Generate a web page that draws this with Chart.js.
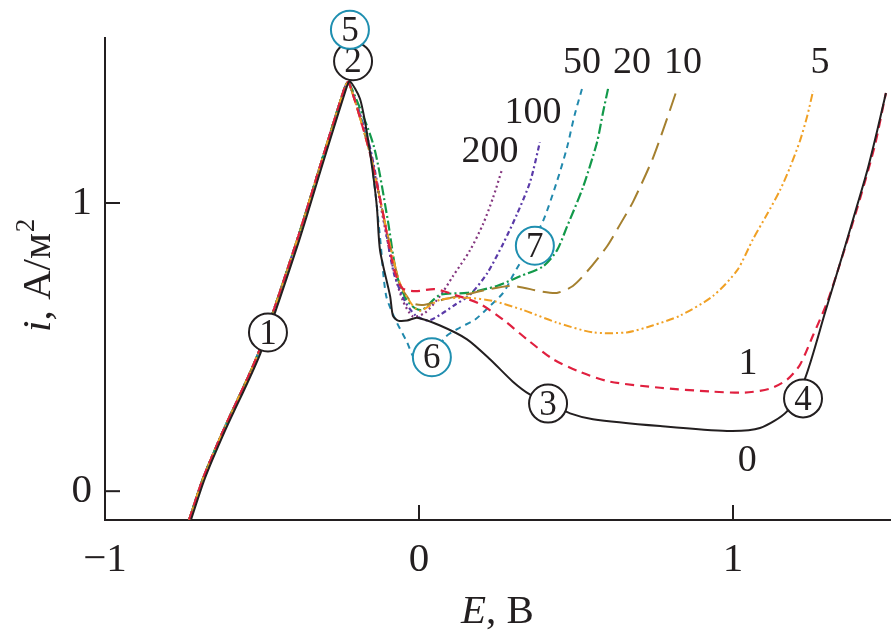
<!DOCTYPE html>
<html lang="ru">
<head>
<meta charset="UTF-8">
<title>i–E</title>
<script src="https://cdn.jsdelivr.net/npm/chart.js@4.4.0/dist/chart.umd.min.js"></script>
<style>
  html, body { margin: 0; padding: 0; background: #fff; }
</style>
</head>
<body>
<canvas id="chart" width="892" height="636"></canvas>
<script>
// axis ticks
const xTicks = [-1, 0, 1];
const yTicks = [0, 1];

// shared anodic rise (all coloured curves lie on it)
const riseBranch = [[-0.732, -0.099], [-0.688, 0.044], [-0.624, 0.209], [-0.513, 0.476], [-0.392, 0.859], [-0.312, 1.139], [-0.235, 1.406], [-0.224, 1.420]];

// curve 0 (black, solid)
const curve0 = [[-0.726, -0.099], [-0.682, 0.044], [-0.618, 0.209], [-0.506, 0.476], [-0.385, 0.859], [-0.306, 1.139], [-0.229, 1.406], [-0.220, 1.423],
  [-0.188, 1.362], [-0.166, 1.245], [-0.146, 1.098], [-0.134, 0.985], [-0.124, 0.835], [-0.092, 0.677], [-0.083, 0.609],
  [-0.067, 0.592], [-0.038, 0.592], [-0.006, 0.602],
  [0.067, 0.575], [0.153, 0.527], [0.226, 0.458], [0.299, 0.380], [0.354, 0.335], [0.417, 0.304], [0.481, 0.270],
  [0.554, 0.250], [0.768, 0.226], [0.981, 0.209], [1.086, 0.219], [1.172, 0.277], [1.229, 0.390], [1.293, 0.619],
  [1.350, 0.824], [1.395, 0.990], [1.427, 1.110], [1.459, 1.250], [1.487, 1.382]];

// curve 1
const curve1 = [[-0.158, 1.180], [-0.114, 0.961], [-0.080, 0.773], [-0.054, 0.705], [-0.013, 0.694], [0.051, 0.701],
  [0.115, 0.681], [0.194, 0.650], [0.268, 0.595], [0.344, 0.527], [0.427, 0.458], [0.513, 0.414], [0.608, 0.380],
  [0.768, 0.359], [0.927, 0.346], [1.038, 0.342], [1.118, 0.356], [1.172, 0.387], [1.213, 0.438], [1.255, 0.541],
  [1.299, 0.653], [1.341, 0.790], [1.404, 1.013], [1.452, 1.201], [1.487, 1.382]];

// curve 5
const curve5 = [[-0.155, 1.167], [-0.104, 0.910], [-0.061, 0.722], [-0.022, 0.647], [0.003, 0.626], [0.067, 0.664],
  [0.153, 0.671], [0.236, 0.660], [0.331, 0.629], [0.439, 0.585], [0.554, 0.551], [0.662, 0.551], [0.744, 0.575],
  [0.831, 0.609], [0.936, 0.677], [1.013, 0.766], [1.064, 0.875], [1.108, 0.960], [1.150, 1.045], [1.182, 1.125],
  [1.213, 1.215], [1.236, 1.300], [1.255, 1.389]];

// curve 10
const curve10 = [[-0.155, 1.167], [-0.104, 0.910], [-0.061, 0.722], [-0.022, 0.653], [0.019, 0.647], [0.083, 0.667],
  [0.146, 0.681], [0.210, 0.698], [0.299, 0.712], [0.385, 0.694], [0.439, 0.688], [0.490, 0.712], [0.535, 0.762],
  [0.599, 0.850], [0.640, 0.925], [0.682, 1.005], [0.745, 1.156], [0.790, 1.293], [0.822, 1.396]];

// curve 20
const curve20 = [[-0.145, 1.201], [-0.100, 0.944], [-0.072, 0.756], [-0.042, 0.668], [-0.013, 0.635], [0.010, 0.629],
  [0.067, 0.681], [0.153, 0.688], [0.248, 0.712], [0.322, 0.746], [0.395, 0.780], [0.439, 0.835], [0.471, 0.917],
  [0.522, 1.054], [0.567, 1.211], [0.586, 1.314], [0.602, 1.396]];

// curve 50
const curve50 = [[-0.160, 1.201], [-0.142, 1.064], [-0.124, 0.880], [-0.105, 0.680], [-0.075, 0.595], [-0.038, 0.517],
  [-0.013, 0.458], [0.029, 0.441], [0.083, 0.534], [0.131, 0.568], [0.178, 0.595], [0.226, 0.643], [0.268, 0.688],
  [0.300, 0.750], [0.344, 0.835], [0.395, 0.937], [0.439, 1.074], [0.471, 1.191], [0.495, 1.303], [0.519, 1.396]];

// curve 100
const curve100 = [[-0.158, 1.201], [-0.112, 0.944], [-0.080, 0.756], [-0.045, 0.660], [-0.013, 0.612], [0.029, 0.592],
  [0.067, 0.612], [0.115, 0.647], [0.162, 0.681], [0.217, 0.756], [0.268, 0.859], [0.312, 0.961], [0.354, 1.074],
  [0.385, 1.211]];

// curve 200
const curve200 = [[-0.160, 1.201], [-0.114, 0.944], [-0.080, 0.763], [-0.051, 0.660], [-0.019, 0.606], [0.019, 0.619],
  [0.067, 0.677], [0.108, 0.746], [0.162, 0.835], [0.204, 0.927], [0.236, 1.019], [0.264, 1.115]];

// curve labels: text, x, y
const curveLabels = [['0', 1.045, 0.106], ['1', 1.048, 0.441], ['5', 1.277, 1.485], ['10', 0.841, 1.485],
  ['20', 0.678, 1.485], ['50', 0.519, 1.485], ['100', 0.363, 1.314], ['200', 0.226, 1.177]];

// circled point numbers: text, x, y, ring colour
const pointMarks = [['1', -0.481, 0.551, 'black'], ['2', -0.210, 1.492, 'black'], ['3', 0.411, 0.304, 'black'],
  ['4', 1.223, 0.322, 'black'], ['5', -0.220, 1.601, 'teal'], ['6', 0.041, 0.465, 'teal'], ['7', 0.369, 0.852, 'teal']];

const ink = '#231f20';
const ringColors = { black: '#231f20', teal: '#1f8fb0' };
const serif = "'Times New Roman', 'Liberation Serif', Tinos, Times, serif";

function toXY(arr) { return arr.map(([x, y]) => ({ x, y })); }

const series = [
  { label: '0', pts: curve0, color: '#231f20', dash: [], width: 2 },
  { label: '1', pts: riseBranch.concat(curve1), color: '#e0203f', dash: [9, 6], width: 2.2 },
  { label: '5', pts: riseBranch.concat(curve5), color: '#f0a024', dash: [8, 3, 2, 3, 2, 3], width: 2 },
  { label: '10', pts: riseBranch.concat(curve10), color: '#a5802f', dash: [18, 8], width: 2 },
  { label: '20', pts: riseBranch.concat(curve20), color: '#12994a', dash: [10, 3, 2, 3], width: 2.2 },
  { label: '50', pts: riseBranch.concat(curve50), color: '#2189ad', dash: [6, 5], width: 2 },
  { label: '100', pts: riseBranch.concat(curve100), color: '#5a3aa8', dash: [5, 3, 2, 3], width: 2.2 },
  { label: '200', pts: riseBranch.concat(curve200), color: '#84367f', dash: [2, 3], width: 2.2 }
];

const datasets = series.map(s => ({
  label: s.label,
  data: toXY(s.pts),
  borderColor: s.color,
  backgroundColor: s.color,
  borderWidth: s.width,
  borderDash: s.dash,
  pointRadius: 0,
  tension: 0.25,
  fill: false
}));

const overlay = {
  id: 'overlay',
  afterDraw(chart) {
    const { ctx, chartArea, scales: { x, y } } = chart;
    ctx.save();
    // inward tick marks
    ctx.strokeStyle = ink;
    ctx.lineWidth = 2;
    xTicks.forEach(v => {
      if (v === x.min) return;
      const px = x.getPixelForValue(v);
      ctx.beginPath(); ctx.moveTo(px, chartArea.bottom); ctx.lineTo(px, chartArea.bottom - 15); ctx.stroke();
    });
    yTicks.forEach(v => {
      const py = y.getPixelForValue(v);
      ctx.beginPath(); ctx.moveTo(chartArea.left, py); ctx.lineTo(chartArea.left + 15, py); ctx.stroke();
    });

    // curve labels
    ctx.fillStyle = ink;
    ctx.font = `38px ${serif}`;
    ctx.textAlign = 'center';
    ctx.textBaseline = 'middle';
    curveLabels.forEach(([t, vx, vy]) => ctx.fillText(t, x.getPixelForValue(vx), y.getPixelForValue(vy)));

    // circled numbers
    pointMarks.forEach(([t, vx, vy, c]) => {
      const px = x.getPixelForValue(vx), py = y.getPixelForValue(vy);
      ctx.beginPath();
      ctx.arc(px, py, 19, 0, Math.PI * 2);
      ctx.fillStyle = '#fff';
      ctx.fill();
      ctx.strokeStyle = ringColors[c];
      ctx.lineWidth = 2;
      ctx.stroke();
      ctx.fillStyle = ink;
      ctx.font = `35px ${serif}`;
      ctx.fillText(t, px, py + 2);
    });

    // x title: E, В
    ctx.textBaseline = 'alphabetic';
    ctx.textAlign = 'left';
    const cx = (chartArea.left + chartArea.right) / 2;
    const itFont = `italic 41px ${serif}`, upFont = `41px ${serif}`;
    ctx.font = itFont; const wE = ctx.measureText('E').width;
    ctx.font = upFont; const wB = ctx.measureText(', В').width;
    let sx = cx - (wE + wB) / 2;
    ctx.font = itFont; ctx.fillText('E', sx, chartArea.bottom + 103);
    ctx.font = upFont; ctx.fillText(', В', sx + wE, chartArea.bottom + 103);

    // y title: i, А/м²
    ctx.translate(50, (chartArea.top + chartArea.bottom) / 2 - 3);
    ctx.rotate(-Math.PI / 2);
    ctx.font = itFont; const wi = ctx.measureText('i').width;
    ctx.font = upFont; const wA = ctx.measureText(', А/м').width;
    ctx.font = `27px ${serif}`; const w2 = ctx.measureText('2').width;
    sx = -(wi + wA + w2) / 2;
    ctx.font = itFont; ctx.fillText('i', sx, 0);
    ctx.font = upFont; ctx.fillText(', А/м', sx + wi, 0);
    ctx.font = `27px ${serif}`; ctx.fillText('2', sx + wi + wA + 1, -16);
    ctx.restore();
  }
};

new Chart(document.getElementById('chart'), {
  type: 'line',
  data: { datasets },
  options: {
    responsive: false,
    animation: false,
    layout: { padding: { top: 31, right: 2, left: 0, bottom: 0 } },
    plugins: { legend: { display: false }, tooltip: { enabled: false } },
    scales: {
      x: {
        type: 'linear',
        min: -1,
        max: 1.5,
        afterFit: s => { s.height = 116; },
        afterBuildTicks: s => { s.ticks = xTicks.map(v => ({ value: v })); },
        grid: { display: false, drawTicks: false },
        border: { display: true, color: ink, width: 2 },
        ticks: {
          color: ink,
          padding: 16,
          maxRotation: 0,
          autoSkip: false,
          font: { family: serif, size: 41 },
          callback: v => (v < 0 ? '\u2212' + Math.abs(v) : String(v))
        }
      },
      y: {
        type: 'linear',
        min: -0.1,
        max: 1.574,
        afterFit: s => { s.width = 105; },
        afterBuildTicks: s => { s.ticks = yTicks.map(v => ({ value: v })); },
        grid: { display: false, drawTicks: false },
        border: { display: true, color: ink, width: 2 },
        ticks: {
          color: ink,
          padding: 13,
          font: { family: serif, size: 41 },
          callback: v => String(v)
        }
      }
    }
  },
  plugins: [overlay]
});
</script>
</body>
</html>
